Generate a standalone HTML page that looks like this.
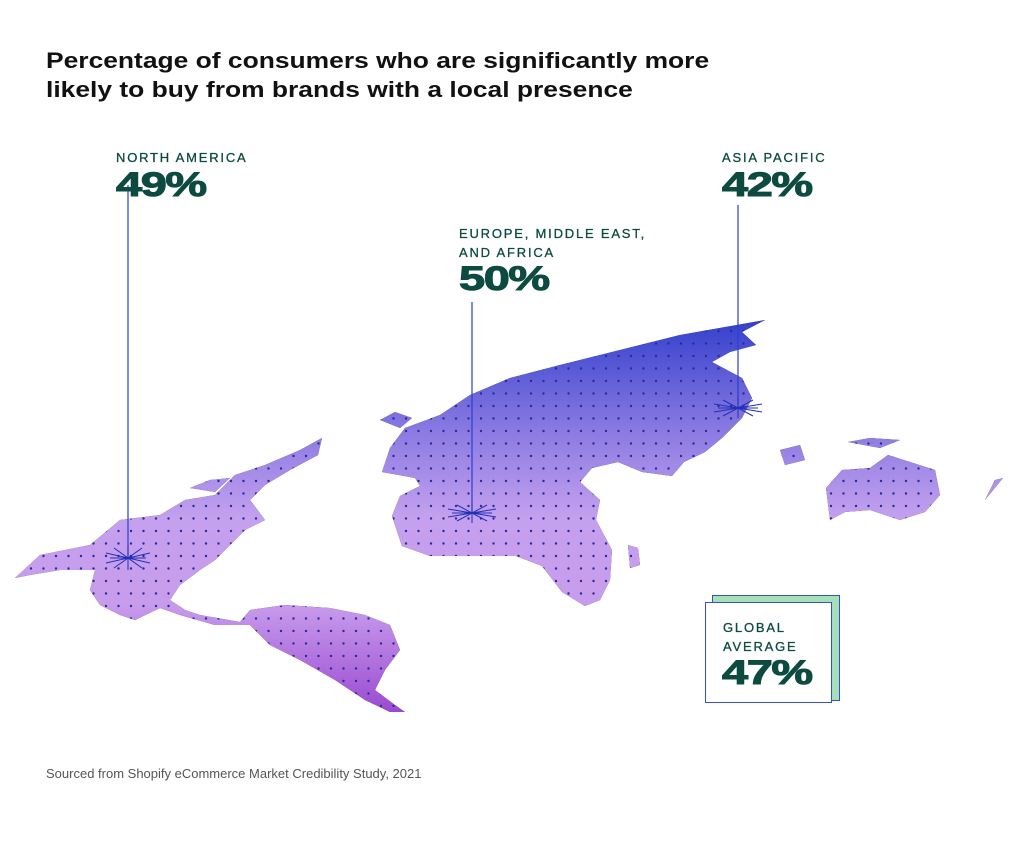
<!DOCTYPE html>
<html><head><meta charset="utf-8"><style>
body{margin:0;background:#fff;}
#c{position:relative;width:1036px;height:842px;overflow:hidden;font-family:"Liberation Sans",sans-serif;}
.t{position:absolute;left:46px;top:46px;font-size:22px;font-weight:bold;line-height:29px;color:#111;transform-origin:0 0;transform:scaleX(1.2);white-space:nowrap;}
.lab{position:absolute;font-size:13px;letter-spacing:1.8px;color:#0d4a40;line-height:19px;-webkit-text-stroke:0.3px #0d4a40;}
.pct{position:absolute;font-size:34px;font-weight:900;color:#0d4a40;transform-origin:0 0;transform:scaleX(1.38);letter-spacing:-1px;line-height:34px;-webkit-text-stroke:1px #0d4a40;}
.src{position:absolute;left:46px;top:766px;font-size:13px;color:#555;}
</style></head><body><div id="c">
<div class="t">Percentage of consumers who are significantly more<br>likely to buy from brands with a local presence</div>
<svg width="1036" height="842" style="position:absolute;left:0;top:0">
<defs>
<linearGradient id="g" x1="0" y1="320" x2="0" y2="715" gradientUnits="userSpaceOnUse">
<stop offset="0" stop-color="#3340cc"/><stop offset="0.28" stop-color="#8a7ae2"/><stop offset="0.5" stop-color="#c4a0ee"/><stop offset="0.72" stop-color="#c89cec"/><stop offset="1" stop-color="#9a48d0"/>
</linearGradient>
<pattern id="d" x="0" y="0" width="12.5" height="12.5" patternUnits="userSpaceOnUse"><circle cx="6" cy="6" r="1.2" fill="#2a2a9a"/></pattern>
</defs>
<g id="land">
<path d="M15,578 L40,555 L90,545 L120,520 L160,515 L185,500 L215,495 L235,475 L265,465 L300,450 L322,438 L318,455 L290,470 L265,485 L250,500 L265,520 L245,530 L230,545 L215,560 L200,570 L180,585 L170,600 L185,610 L200,615 L240,622 L250,610 L285,605 L330,608 L365,615 L390,625 L400,650 L385,670 L375,690 L395,705 L405,712 L390,712 L365,700 L335,680 L300,660 L270,645 L250,625 L215,625 L180,615 L160,608 L135,620 L120,615 L100,605 L90,590 L95,570 L60,570 L30,575 Z"/>
<path d="M382,472 L390,448 L405,428 L440,415 L470,395 L510,378 L560,365 L620,350 L680,335 L765,320 L742,332 L756,345 L730,352 L712,362 L742,378 L752,398 L742,418 L722,438 L705,452 L684,462 L672,476 L642,472 L618,462 L592,468 L580,482 L600,500 L596,520 L612,550 L610,580 L600,600 L585,606 L562,592 L542,566 L516,556 L470,556 L430,556 L402,546 L392,516 L400,496 L420,486 L415,478 Z"/>
<path d="M826,488 L842,470 L870,468 L888,455 L910,462 L935,470 L940,495 L925,512 L900,520 L870,510 L845,512 L830,520 Z"/>
<path d="M380,420 L395,412 L412,418 L400,428 Z"/>
<path d="M848,442 L870,438 L900,440 L880,448 Z"/>
<path d="M780,450 L800,445 L805,460 L785,465 Z"/>
<path d="M628,545 L638,548 L640,565 L630,568 Z"/>
<path d="M190,488 L210,480 L230,478 L215,492 Z"/>
<path d="M995,480 L1003,478 L985,500 Z"/>
</g>
<use href="#land" fill="url(#g)"/>
<use href="#land" fill="url(#d)"/>
<g stroke="#2b3fcf" stroke-width="1.2">
<line x1="128" y1="185" x2="128" y2="558"/><line x1="472" y1="302" x2="472" y2="513"/><line x1="738" y1="205" x2="738" y2="408"/>
</g>
<g stroke="#2230b8" stroke-width="1">
<path d="M110,558h36M128,546v24M114,548l28,20M114,568l28,-20M106,553l44,10M106,563l44,-10"/>
<path d="M452,513h40M472,503v20M457,505l30,16M457,521l30,-16M448,509l48,8M448,517l48,-8"/>
<path d="M718,408h40M738,398v20M723,400l30,16M723,416l30,-16M714,404l48,8M714,412l48,-8"/>
</g>
<rect x="712.5" y="595.5" width="127" height="105" fill="#a6e0b8" stroke="#3a4fd0"/>
<rect x="705.5" y="602.5" width="126" height="100" fill="#fff" stroke="#3a4fd0"/>
</svg>
<div class="lab" style="left:116px;top:148px">NORTH AMERICA</div>
<div class="pct" style="left:116px;top:168px">49%</div>
<div class="lab" style="left:459px;top:224px">EUROPE, MIDDLE EAST,<br>AND AFRICA</div>
<div class="pct" style="left:459px;top:262px">50%</div>
<div class="lab" style="left:722px;top:148px">ASIA PACIFIC</div>
<div class="pct" style="left:722px;top:168px">42%</div>
<div class="lab" style="left:723px;top:618px">GLOBAL<br>AVERAGE</div>
<div class="pct" style="left:722px;top:656px">47%</div>
<div class="src">Sourced from Shopify eCommerce Market Credibility Study, 2021</div>
</div></body></html>
